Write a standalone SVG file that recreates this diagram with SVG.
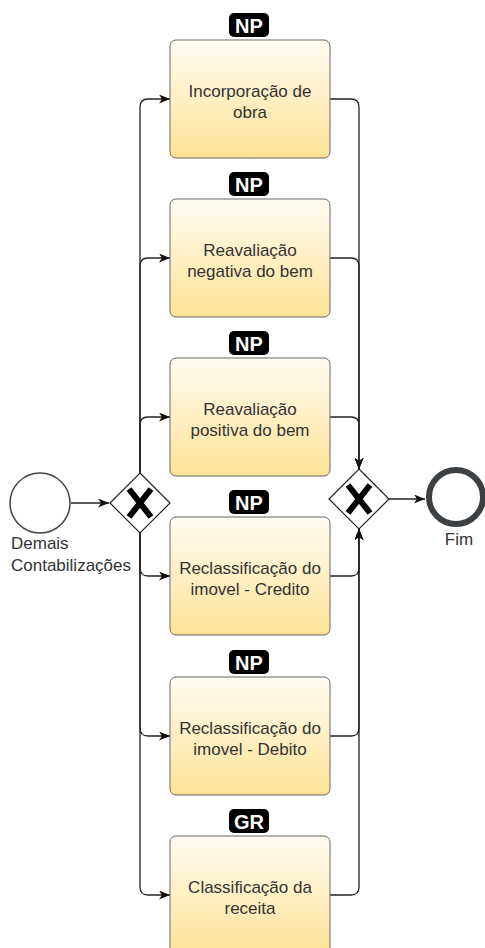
<svg xmlns="http://www.w3.org/2000/svg" width="485" height="948" viewBox="0 0 485 948">
<style>
.box{stroke:#666;stroke-width:1;fill:url(#g)}
.lbl{font-family:"Liberation Sans",Arial,sans-serif;font-size:17px;fill:#333;text-anchor:middle}
.badge{fill:#000}
.btx{font-family:"Liberation Sans",Arial,sans-serif;font-size:20px;font-weight:bold;fill:#fff;text-anchor:middle}
.con{fill:none;stroke:#222;stroke-width:1.3}
.gw{fill:#fff;stroke:#222;stroke-width:1.2}
.x{stroke:#000;stroke-width:6;stroke-linecap:butt}
</style>
<defs>
<linearGradient id="g" x1="0" y1="0" x2="0" y2="1">
<stop offset="0" stop-color="#fffcf3"/>
<stop offset="1" stop-color="#ffe295"/>
</linearGradient>
<marker id="a" viewBox="0 0 11 9" refX="11" refY="4.5" markerWidth="11" markerHeight="9" markerUnits="userSpaceOnUse" orient="auto">
<path d="M0,0 L11,4.5 L0,9 L3,4.5 z" fill="#111"/>
</marker>
</defs>

<g id="connectors">
<path class="con" d="M71,503 H109" marker-end="url(#a)"/>
<path class="con" d="M389,499 H425" marker-end="url(#a)"/>
<path class="con" d="M140,473 V107 Q140,99 148,99 H170" marker-end="url(#a)"/>
<path class="con" d="M140,473 V266 Q140,258 148,258 H170" marker-end="url(#a)"/>
<path class="con" d="M140,473 V425 Q140,417 148,417 H170" marker-end="url(#a)"/>
<path class="con" d="M140,533 V568 Q140,576 148,576 H170" marker-end="url(#a)"/>
<path class="con" d="M140,533 V728 Q140,736 148,736 H170" marker-end="url(#a)"/>
<path class="con" d="M140,533 V887 Q140,895 148,895 H170" marker-end="url(#a)"/>
<path class="con" d="M330,99 H351 Q359,99 359,107 V469" marker-end="url(#a)"/>
<path class="con" d="M330,258 H351 Q359,258 359,266 V469" marker-end="url(#a)"/>
<path class="con" d="M330,417 H351 Q359,417 359,425 V469" marker-end="url(#a)"/>
<path class="con" d="M330,576 H351 Q359,576 359,568 V529" marker-end="url(#a)"/>
<path class="con" d="M330,736 H351 Q359,736 359,728 V529" marker-end="url(#a)"/>
<path class="con" d="M330,895 H351 Q359,895 359,887 V529" marker-end="url(#a)"/>
</g>

<g id="start">
<circle cx="40" cy="503" r="30" fill="#fff" stroke="#444" stroke-width="1.5"/>
<text class="lbl" style="text-anchor:start" x="11" y="549">Demais</text>
<text class="lbl" style="text-anchor:start" x="11" y="571">Contabilizações</text>
</g>

<g id="gateway-split">
<path class="gw" d="M140,473 L170,503 L140,533 L110,503 z"/>
<path class="x" d="M129,489 L151,517 M151,489 L129,517"/>
</g>

<g id="gateway-join">
<path class="gw" d="M359,469 L389,499 L359,529 L329,499 z"/>
<path class="x" d="M348,485 L370,513 M370,485 L348,513"/>
</g>

<g id="end">
<circle cx="456" cy="497" r="27" fill="#fff" stroke="#3c4043" stroke-width="6"/>
<text class="lbl" x="459" y="545">Fim</text>
</g>

<g id="task1">
<rect class="box" x="170" y="40" width="160" height="118" rx="6"/>
<rect class="badge" x="229" y="13" width="40" height="24" rx="5"/>
<text class="btx" x="249" y="32.5">NP</text>
<text class="lbl" x="250" y="97">Incorporação de</text>
<text class="lbl" x="250" y="118">obra</text>
</g>

<g id="task2">
<rect class="box" x="170" y="199" width="160" height="118" rx="6"/>
<rect class="badge" x="229" y="172" width="40" height="24" rx="5"/>
<text class="btx" x="249" y="191.5">NP</text>
<text class="lbl" x="250" y="256">Reavaliação</text>
<text class="lbl" x="250" y="277">negativa do bem</text>
</g>

<g id="task3">
<rect class="box" x="170" y="358" width="160" height="118" rx="6"/>
<rect class="badge" x="229" y="331" width="40" height="24" rx="5"/>
<text class="btx" x="249" y="350.5">NP</text>
<text class="lbl" x="250" y="415">Reavaliação</text>
<text class="lbl" x="250" y="436">positiva do bem</text>
</g>

<g id="task4">
<rect class="box" x="170" y="517" width="160" height="118" rx="6"/>
<rect class="badge" x="229" y="490" width="40" height="24" rx="5"/>
<text class="btx" x="249" y="509.5">NP</text>
<text class="lbl" x="250" y="574">Reclassificação do</text>
<text class="lbl" x="250" y="595">imovel - Credito</text>
</g>

<g id="task5">
<rect class="box" x="170" y="677" width="160" height="118" rx="6"/>
<rect class="badge" x="229" y="650" width="40" height="24" rx="5"/>
<text class="btx" x="249" y="669.5">NP</text>
<text class="lbl" x="250" y="734">Reclassificação do</text>
<text class="lbl" x="250" y="755">imovel - Debito</text>
</g>

<g id="task6">
<rect class="box" x="170" y="836" width="160" height="118" rx="6"/>
<rect class="badge" x="229" y="809" width="40" height="24" rx="5"/>
<text class="btx" x="249" y="828.5">GR</text>
<text class="lbl" x="250" y="893">Classificação da</text>
<text class="lbl" x="250" y="914">receita</text>
</g>
</svg>
